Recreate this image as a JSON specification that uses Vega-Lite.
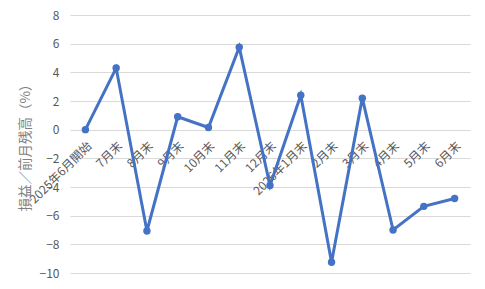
{
  "$schema": "https://vega.github.io/schema/vega-lite/v6.json",
  "autosize": {"type": "none"},
  "width": 400,
  "height": 258,
  "padding": {"left": 70, "top": 15, "right": 15, "bottom": 16},
  "background": "white",
  "config": {
    "view": {"stroke": null},
    "font": "Noto Sans CJK JP"
  },
  "data": {
    "values": [
      {"month": "2025年6月開始", "value": 0},
      {"month": "7月末", "value": 4.3},
      {"month": "8月末", "value": -7.07},
      {"month": "9月末", "value": 0.9},
      {"month": "10月末", "value": 0.15},
      {"month": "11月末", "value": 5.75},
      {"month": "12月末", "value": -3.9},
      {"month": "2026年1月末", "value": 2.4},
      {"month": "2月末", "value": -9.25},
      {"month": "3月末", "value": 2.2},
      {"month": "4月末", "value": -7.0},
      {"month": "5月末", "value": -5.35},
      {"month": "6月末", "value": -4.8}
    ]
  },
  "encoding": {
    "x": {
      "field": "month",
      "type": "ordinal",
      "sort": null,
      "scale": {"type": "point", "padding": 0.5},
      "axis": {
        "title": null,
        "orient": "bottom",
        "offset": -143,
        "domain": false,
        "ticks": false,
        "grid": false,
        "labelAngle": -45,
        "labelAlign": "right",
        "labelBaseline": "top",
        "labelPadding": 10,
        "labelFontSize": 12,
        "labelColor": "#595959",
        "labelFont": "Noto Sans CJK JP"
      }
    },
    "y": {
      "field": "value",
      "type": "quantitative",
      "scale": {"domain": [-10, 8], "nice": false, "zero": false},
      "axis": {
        "title": "損益／前月残高（%）",
        "titleFontSize": 13.5,
        "titleFontWeight": "normal",
        "titleColor": "#7f7f7f",
        "titlePadding": 7,
        "titleFont": "Noto Sans CJK JP",
        "values": [-10, -8, -6, -4, -2, 0, 2, 4, 6, 8],
        "domain": false,
        "ticks": false,
        "labelPadding": 11,
        "labelFontSize": 12,
        "labelColor": "#595959",
        "gridColor": "#d9d9d9",
        "gridWidth": 1
      }
    }
  },
  "layer": [
    {
      "mark": {"type": "line", "color": "#4472C4", "strokeWidth": 3}
    },
    {
      "mark": {"type": "point", "filled": true, "color": "#4472C4", "size": 55, "opacity": 1}
    }
  ]
}
